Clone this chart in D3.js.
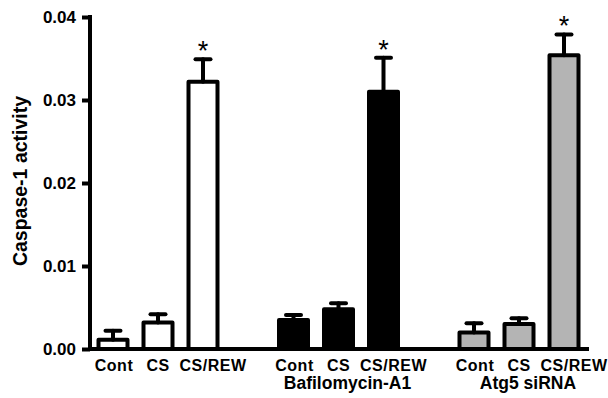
<!DOCTYPE html>
<html>
<head>
<meta charset="utf-8">
<script src="https://cdn.jsdelivr.net/npm/d3@7"></script>
<style>
body { margin: 0; background: #fff; }
text { font-family: "Liberation Sans", Arial, sans-serif; fill: #000; }
</style>
</head>
<body>
<div id="chart"></div>
<script>
// chart data
var groups = ["", "Bafilomycin-A1", "Atg5 siRNA"];
var categories = ["Cont", "CS", "CS/REW"];
var means = [
  [0.0011, 0.0032, 0.0322],
  [0.0035, 0.0048, 0.0310],
  [0.0020, 0.0030, 0.0354]
];
var errors = [
  [0.0011, 0.0010, 0.0027],
  [0.0006, 0.0007, 0.0041],
  [0.0011, 0.0007, 0.0025]
];
var fills = ["#ffffff", "#000000", "#b4b4b4"];
var yTicks = [0, 0.01, 0.02, 0.03, 0.04];
var starred = ["CS/REW"];

var W = 608, H = 398;
var svg = d3.select("#chart").append("svg")
  .attr("width", W).attr("height", H);

var y = d3.scaleLinear().domain([0, 0.04]).range([349, 17]);
var xg = d3.scaleBand().domain(d3.range(groups.length)).range([67.75, 609.25]);
var xc = d3.scalePoint().domain(categories).range([-45, 45]);
var barW = 29;
// label nudges, the long labels sit a bit right of their bars
var labelShift = {"Cont": 1, "CS": 0, "CS/REW": 10};

function cx(g, c) { return xg(g) + xg.bandwidth() / 2 + xc(c); }

var rows = [];
groups.forEach(function(gName, g) {
  categories.forEach(function(c, i) {
    rows.push({g: g, c: c, v: means[g][i], e: errors[g][i], fill: fills[g]});
  });
});

// bars
svg.append("g").selectAll("rect").data(rows).enter().append("rect")
  .attr("x", function(d) { return cx(d.g, d.c) - barW / 2; })
  .attr("y", function(d) { return y(d.v); })
  .attr("width", barW)
  .attr("height", function(d) { return y(0) - y(d.v); })
  .attr("fill", function(d) { return d.fill; })
  .attr("stroke", "#000")
  .attr("stroke-width", 4)
  .attr("stroke-linejoin", "round");

// error bars (upper only)
var eb = svg.append("g").attr("stroke", "#000").attr("stroke-width", 4).attr("stroke-linecap", "round");
eb.selectAll("line.v").data(rows).enter().append("line").attr("class", "v")
  .attr("x1", function(d) { return cx(d.g, d.c); })
  .attr("x2", function(d) { return cx(d.g, d.c); })
  .attr("y1", function(d) { return y(d.v); })
  .attr("y2", function(d) { return y(d.v + d.e); });
eb.selectAll("line.cap").data(rows).enter().append("line").attr("class", "cap")
  .attr("x1", function(d) { return cx(d.g, d.c) - 7.5; })
  .attr("x2", function(d) { return cx(d.g, d.c) + 7.5; })
  .attr("y1", function(d) { return y(d.v + d.e); })
  .attr("y2", function(d) { return y(d.v + d.e); });

// stars
svg.append("g").selectAll("text").data(rows.filter(function(d) { return starred.indexOf(d.c) >= 0; }))
  .enter().append("text")
  .attr("x", function(d) { return cx(d.g, d.c); })
  .attr("y", function(d) { return y(d.v + d.e) + 1; })
  .attr("text-anchor", "middle")
  .style("font-size", "27px")
  .text("*");

// y axis
var yAxis = svg.append("g").attr("transform", "translate(90,0)")
  .call(d3.axisLeft(y).tickValues(yTicks).tickFormat(d3.format(".2f")).tickSize(8).tickPadding(6));
yAxis.select(".domain").attr("d", "M0," + (y(0.04) - 2) + "V" + y(0)).attr("stroke-width", 4);
yAxis.selectAll(".tick line").attr("stroke-width", 4);
yAxis.selectAll(".tick text").style("font-size", "17px").style("font-weight", "bold")
  .style("font-family", "'Liberation Sans', Arial, sans-serif").attr("fill", "#000");

// x axis line
svg.append("line")
  .attr("x1", 88).attr("x2", 589)
  .attr("y1", y(0)).attr("y2", y(0))
  .attr("stroke", "#000").attr("stroke-width", 4);

// category labels
svg.append("g").selectAll("text").data(rows).enter().append("text")
  .attr("x", function(d) { return cx(d.g, d.c) + labelShift[d.c]; })
  .attr("y", 371)
  .attr("text-anchor", "middle")
  .style("font-size", "16px")
  .style("font-weight", "bold")
  .style("letter-spacing", "0.5px")
  .text(function(d) { return d.c; });

// group labels
svg.append("g").selectAll("text").data(groups).enter().append("text")
  .attr("x", function(d, i) { return xg(i) + xg.bandwidth() / 2 + 9; })
  .attr("y", 389)
  .attr("text-anchor", "middle")
  .style("font-size", "17.5px")
  .style("font-weight", "bold")
  .text(function(d) { return d; });

// y title
svg.append("text")
  .attr("transform", "translate(27,181) rotate(-90)")
  .attr("text-anchor", "middle")
  .style("font-size", "19.5px")
  .style("font-weight", "bold")
  .text("Caspase-1 activity");
</script>
</body>
</html>
